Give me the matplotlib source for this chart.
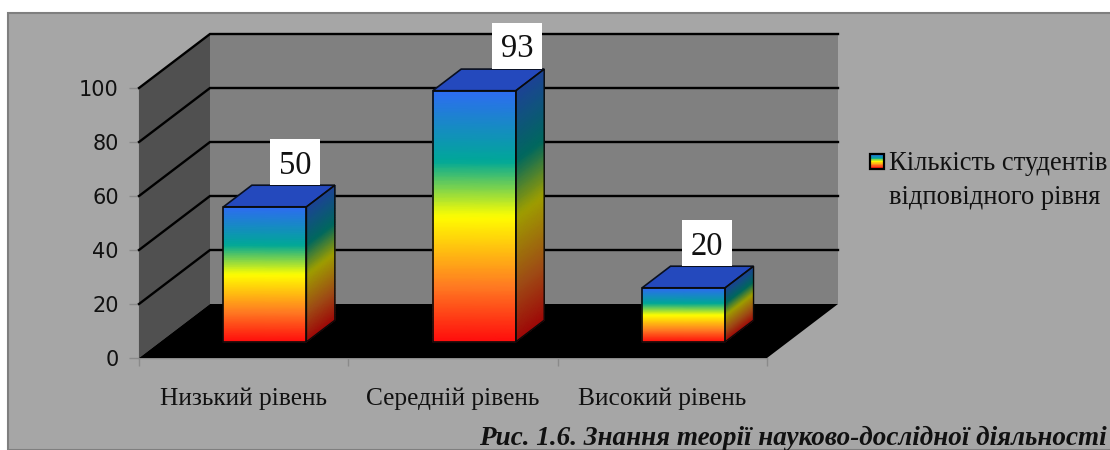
import numpy as np
import matplotlib
matplotlib.use("Agg")
import matplotlib.pyplot as plt
from matplotlib.colors import LinearSegmentedColormap
from matplotlib.legend_handler import HandlerBase
from matplotlib.patches import Polygon, Rectangle, Patch

categories = ["Низький рівень", "Середній рівень", "Високий рівень"]
values = [50, 93, 20]
y_ticks = [0, 20, 40, 60, 80, 100]
series_name = "Кількість студентів\nвідповідного рівня"
caption = "Рис. 1.6. Знання теорії науково-дослідної діяльності"

W, H = 1110, 450
X0, X1, Y0, Y1 = 139, 767, 358, 88
DX = 71 / ((X1 - X0) / 3)   # depth offset in category units
DY = 54 / ((Y0 - Y1) / 100)  # depth offset in value units
BAR_W = 83 / ((X1 - X0) / 3)
BAR_OFF = 0.30
BAR_DEPTH = 0.40
px_x = (X1 - X0) / 3
px_y = (Y0 - Y1) / 100

stops = [(0.0, "#ff0c0c"), (0.22, "#ff7a22"), (0.5, "#ffff00"),
         (0.72, "#00a898"), (1.0, "#2e6cf2")]
grad = LinearSegmentedColormap.from_list("bar", stops)
SIDE = 0.62
side_grad = LinearSegmentedColormap.from_list(
    "side", [(p, tuple(SIDE * c for c in matplotlib.colors.to_rgb(col))) for p, col in stops])

fig = plt.figure(figsize=(W / 100, H / 100), dpi=100, facecolor="white")
fig.add_artist(Rectangle((8 / W, 0), 1, 1 - 13 / H, transform=fig.transFigure,
                         facecolor="#a6a6a6", edgecolor="#7f7f7f", lw=1.5, zorder=-5))

ax = fig.add_axes([X0 / W, (H - Y0) / H, (X1 - X0) / W, (Y0 - Y1) / H])
ax.patch.set_visible(False)
ax.set_xlim(0, 3)
ax.set_ylim(0, 100)
for s in ("top", "right"):
    ax.spines[s].set_visible(False)
for s in ("left", "bottom"):
    ax.spines[s].set_color("#8a8a8a")
    ax.spines[s].set_linewidth(1.0)
    ax.spines[s].set_zorder(0.5)

ax.set_yticks(y_ticks)
ax.tick_params(axis="y", length=7, width=1, color="#8a8a8a", labelsize=15,
               labelcolor="#111111", pad=7.5)
ax.set_xticks(range(4))
ax.set_xticks([i + 0.5 for i in range(3)], categories, minor=True)
ax.tick_params(axis="x", which="major", length=6, width=1, color="#8a8a8a", labelbottom=False)
ax.tick_params(axis="x", which="minor", length=0, pad=21.5, labelsize=18.3, labelcolor="#111111")
for t in ax.get_xticklabels(minor=True):
    t.set_family("Liberation Serif")

# walls and floor
ax.add_patch(Polygon([(0, 0), (DX, DY), (DX, 100 + DY), (0, 100)], fc="#505050", ec="none", zorder=1, clip_on=False))
ax.add_patch(Rectangle((DX, DY), 3, 100, fc="#808080", ec="none", zorder=1, clip_on=False))
for v in y_ticks[1:]:
    ax.plot([0, DX, 3 + DX], [v, v + DY, v + DY], color="black", lw=1.7, zorder=2,
            clip_on=False, solid_joinstyle="miter")
ax.add_patch(Polygon([(0, 0), (3, 0), (3 + DX, DY), (DX, DY)], fc="black", ec="none", zorder=2.5, clip_on=False))


def mesh(xs, ys, cmap, z):
    ax.pcolormesh(xs, ys, np.linspace(0, 1, xs.shape[0])[:, None] * np.ones(xs.shape),
                  cmap=cmap, shading="gouraud", vmin=0, vmax=1, zorder=z, clip_on=False,
                  rasterized=False)


label_dx = [30, 43, 23.5]
for i, val in enumerate(values):
    left = i + 0.5 - BAR_W / 2 + BAR_OFF * DX
    right = left + BAR_W
    base = BAR_OFF * DY
    top = base + val
    ddx, ddy = BAR_DEPTH * DX, BAR_DEPTH * DY
    v = np.linspace(0, 1, 60)
    # front
    xs = np.column_stack([np.full(60, left), np.full(60, right)])
    ys = np.column_stack([base + v * val, base + v * val])
    mesh(xs, ys, grad, 3)
    # side
    xs = np.column_stack([np.full(60, right), np.full(60, right + ddx)])
    ys = np.column_stack([base + v * val, base + v * val + ddy])
    mesh(xs, ys, side_grad, 3)
    # top
    ax.add_patch(Polygon([(left, top), (right, top), (right + ddx, top + ddy), (left + ddx, top + ddy)],
                         fc="#2449bd", ec="#0a1020", lw=1.2, zorder=4, clip_on=False))
    ax.add_patch(Polygon([(left, base), (left, top), (right, top), (right, base)],
                         fill=False, ec="#0a0a0a", lw=1.2, zorder=4, clip_on=False))
    ax.add_patch(Polygon([(right, base), (right + ddx, base + ddy), (right + ddx, top + ddy), (right, top)],
                         fill=False, ec="#0a0a0a", lw=1.0, zorder=4, clip_on=False))
    # data label
    cx = (left + right) / 2 + label_dx[i] / px_x
    by = top + 22 / px_y
    bw, bh = 50 / px_x, 46 / px_y
    ax.add_patch(Rectangle((cx - bw / 2, by), bw, bh, fc="white", ec="none", zorder=5, clip_on=False))
    ax.text(cx, by + bh / 2, str(val), ha="center", va="center_baseline", fontsize=23.5,
            family="Liberation Serif", color="#111111", zorder=6, clip_on=False)


class GradientHandler(HandlerBase):
    def create_artists(self, legend, orig, xd, yd, w, h, fs, trans):
        n = 24
        box_h = 10.5
        y0 = 15.5
        arts = []
        for k in range(n):
            arts.append(Rectangle((0, y0 + box_h * k / n), w, box_h / n + 0.3,
                                  fc=grad(k / (n - 1)), ec="none", transform=trans))
        arts.append(Rectangle((0, y0), w, box_h, fill=False, ec="black", lw=1.6, transform=trans))
        return arts


leg = fig.legend([Patch()], [series_name], handler_map={Patch: GradientHandler()},
                 loc="upper left", bbox_to_anchor=(870 / W, 1 - 151 / H), frameon=False,
                 prop={"family": "Liberation Serif", "size": 19.1},
                 handlelength=0.54, handletextpad=0.16, borderpad=0, borderaxespad=0,
                 labelcolor="#111111")
leg.get_texts()[0].set_linespacing(1.48)

fig.text(1107 / W, 1 - 438 / H, caption, ha="right", va="center", fontsize=19.55,
         family="Liberation Serif", style="italic", weight="bold", color="#111111")

fig.savefig("out.png", dpi=100, facecolor="white")
